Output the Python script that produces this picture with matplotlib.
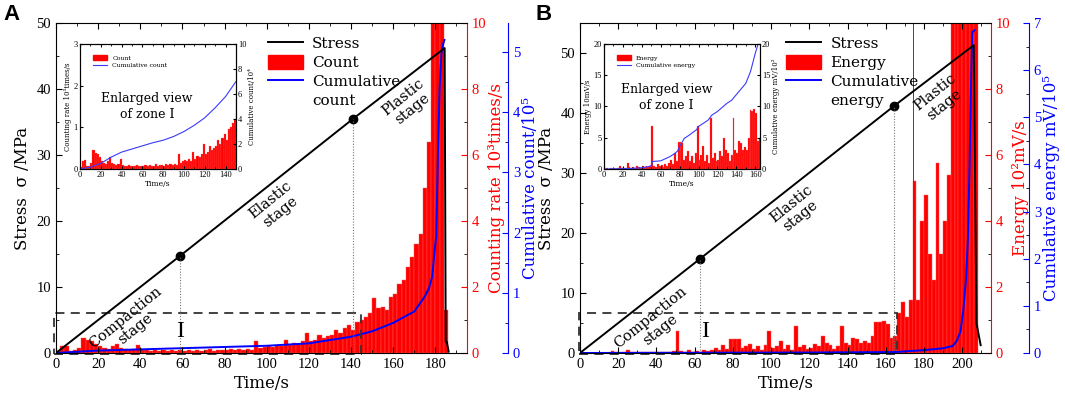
import matplotlib
matplotlib.use("Agg")
import matplotlib.pyplot as plt
from matplotlib.ticker import MultipleLocator
from matplotlib.patches import Rectangle, Patch
from matplotlib.lines import Line2D
import numpy as np

plt.rcParams['font.family'] = 'Liberation Serif'
LBL = 'DejaVu Serif'

# ---------------- panel A : acoustic emission count ----------------
bins_A = np.arange(0, 186, 2)          # bin start, s
count_rate_A = [
    0.05, 0.2, 0.22, 0.06, 0.08,
    0.15, 0.45, 0.38, 0.35, 0.28,
    0.2, 0.15, 0.12, 0.2, 0.28,
    0.15, 0.12, 0.1, 0.12, 0.25,
    0.1, 0.08, 0.07, 0.09, 0.06,
    0.08, 0.07, 0.1, 0.06, 0.08,
    0.07, 0.09, 0.06, 0.1, 0.07,
    0.08, 0.12, 0.07, 0.09, 0.1,
    0.08, 0.11, 0.09, 0.12, 0.1,
    0.12, 0.1, 0.37, 0.15, 0.18,
    0.22, 0.18, 0.25, 0.2, 0.4,
    0.25, 0.3, 0.28, 0.35, 0.6,
    0.35, 0.4, 0.55, 0.45, 0.5,
    0.55, 0.7, 0.6, 0.75, 0.85,
    0.7, 0.95, 1.0, 1.1, 1.2,
    1.67, 1.35, 1.4, 1.3, 1.7,
    1.8, 2.1, 2.2, 2.6, 2.9,
    3.3, 3.6, 5.0, 6.4, 12,
    12, 12, 1.3]

stress_t_A = [0, 58.8, 141, 184.4, 184.9, 185.4, 186.3]
stress_A = [0, 14.7, 35.5, 46.2, 1.7, 1.7, 0.2]
phase_t_A = [58.8, 141]
phase_stress_A = [14.7, 35.5]

cum_t_A = [0, 20, 40, 60, 80, 100, 120, 140, 150, 160, 170, 175, 177,
           178.5, 179.5, 180.4, 181.2, 182, 182.9, 183.6, 184.3]
cum_A = [0, 0.04, 0.06, 0.08, 0.1, 0.12, 0.16, 0.27, 0.36, 0.5, 0.69, 0.94,
         1.08, 1.27, 1.65, 1.95, 3.3, 4.4, 4.98, 5.12, 5.2]

# inset A cumulative count (x10^4)
ins_cum_t_A = [0, 10, 20, 30, 40, 50, 60, 70, 80, 90, 100, 110, 120, 130,
               140, 145, 150]
ins_cum_A = [0, 0.15, 0.45, 0.95, 1.35, 1.6, 1.85, 2.1, 2.3, 2.6, 3.0, 3.5,
             4.1, 4.9, 5.8, 6.4, 7.0]

# ---------------- panel B : acoustic emission energy ----------------
bins_B = np.arange(0, 208, 2)
energy_B = [
    0.0, 0.01, 0.0, 0.01, 0.0,
    0.01, 0.0, 0.01, 0.05, 0.02,
    0.01, 0.02, 0.1, 0.03, 0.02,
    0.03, 0.02, 0.04, 0.03, 0.02,
    0.04, 0.03, 0.04, 0.03, 0.05,
    0.68, 0.05, 0.03, 0.08, 0.04,
    0.06, 0.03, 0.08, 0.05, 0.1,
    0.15, 0.08, 0.25, 0.12, 0.43,
    0.43, 0.41, 0.15, 0.2, 0.28,
    0.12, 0.2, 0.1, 0.25, 0.68,
    0.15, 0.22, 0.36, 0.12, 0.23,
    0.1, 0.81, 0.18, 0.25, 0.12,
    0.15, 0.28, 0.2, 0.5, 0.3,
    0.25, 0.12, 0.22, 0.81, 0.3,
    0.25, 0.44, 0.41, 0.3, 0.35,
    0.3, 0.5, 0.95, 0.93, 0.96,
    0.89, 0.45, 0.5, 1.2, 1.55,
    1.1, 1.6, 5.2, 1.6, 4.0,
    4.8, 3.0, 2.2, 5.75, 3.0,
    4.0, 5.4, 12, 12, 12,
    12, 12, 12, 12]
spike_t_B = [174.5]
spike_B = [12]

stress_t_B = [0, 62.8, 164.4, 206, 207.4, 209.6]
stress_B = [0, 15.7, 41.2, 51.3, 5.0, 1.3]
phase_t_B = [62.8, 164.4]
phase_stress_B = [15.7, 41.2]

cum_t_B = [0, 60, 120, 165, 172, 180, 190, 195, 197, 199, 200.5, 202, 203,
           203.8, 204.5, 205.2, 206.4]
cum_B = [0, 0.005, 0.01, 0.02, 0.04, 0.06, 0.1, 0.15, 0.25, 0.45, 0.9, 1.6,
         2.5, 4.0, 5.6, 6.8, 6.85]

ins_cum_t_B = [0, 20, 30, 40, 48, 50.5, 51, 60, 70, 75, 78, 80, 85, 90, 98,
               100, 110, 114, 120, 130, 135, 140, 150, 155, 160, 163]
ins_cum_B = [0, 0.05, 0.1, 0.2, 0.4, 0.6, 1.2, 1.3, 2.0, 2.5, 2.9, 3.6, 4.9,
             5.4, 6.3, 6.8, 7.8, 8.6, 9.2, 10.5, 11.0, 11.9, 13.7, 15.6,
             18.5, 20.0]


def style_in(ax, size=10.5):
    ax.tick_params(which='both', direction='in', labelsize=size)
    ax.tick_params(which='major', length=4)
    ax.tick_params(which='minor', length=2.5)


def panel(fig, rect, d):
    ax = fig.add_axes(rect)
    ax_r = ax.twinx()
    ax_b = ax.twinx()
    ax_r.set_zorder(1)
    ax_b.set_zorder(2)
    ax.set_zorder(3)
    ax.patch.set_visible(False)

    # bars (red axis)
    ax_r.bar(d['bins'], d['rate'], width=2, align='edge', color='red',
             edgecolor='#ff5a5a', linewidth=0.3)
    if d.get('spike_t'):
        ax_r.bar(d['spike_t'], d['spike'], width=0.6, color='red', linewidth=0)
    ax_r.set_ylim(0, 10)
    ax_r.yaxis.set_major_locator(MultipleLocator(2))
    ax_r.yaxis.set_minor_locator(MultipleLocator(1))
    style_in(ax_r)
    ax_r.tick_params(axis='y', colors='red')
    for s in ['left', 'top', 'bottom']:
        ax_r.spines[s].set_visible(False)
    ax_r.spines['right'].set_color('red')
    ax_r.set_ylabel(d['rlabel'], color='red', family=LBL, fontsize=12, labelpad=1)

    # cumulative (blue axis)
    ln_b, = ax_b.plot(d['cum_t'], d['cum'], color='blue', lw=1.4)
    ax_b.set_ylim(0, d['bmax'])
    ax_b.yaxis.set_major_locator(MultipleLocator(1))
    ax_b.yaxis.set_minor_locator(MultipleLocator(0.5))
    ax_b.spines['right'].set_position(('axes', d['boff']))
    for s in ['left', 'top', 'bottom']:
        ax_b.spines[s].set_visible(False)
    ax_b.spines['right'].set_color('blue')
    style_in(ax_b)
    ax_b.tick_params(axis='y', colors='blue')
    ax_b.set_ylabel(d['blabel'], color='blue', family=LBL, fontsize=12, labelpad=1)

    # stress (black axis)
    ln_s, = ax.plot(d['stress_t'], d['stress'], color='black', lw=1.4)
    ax.plot(d['phase_t'], d['phase_s'], 'o', color='black', ms=6)
    ax.vlines(d['phase_t'], 0.5, d['phase_s'], colors='#777777', lw=0.8,
              linestyles=(0, (1, 1.5)))
    ax.set_xlim(0, d['xmax'])
    ax.set_ylim(0, d['ymax'])
    ax.xaxis.set_major_locator(MultipleLocator(20))
    ax.xaxis.set_minor_locator(MultipleLocator(10))
    ax.yaxis.set_major_locator(MultipleLocator(10))
    ax.yaxis.set_minor_locator(MultipleLocator(5))
    style_in(ax)
    ax.tick_params(which='both', top=True, right=False)
    ax.spines['right'].set_visible(False)
    ax.set_xlabel('Time/s', family=LBL, fontsize=12, labelpad=3)
    ax.set_ylabel('Stress  σ /MPa', family=LBL, fontsize=12, labelpad=4)

    # zone I dashed box
    x0, x1, y1 = d['box']
    ax.add_patch(Rectangle((x0, -0.2), x1 - x0, y1 + 0.2, fill=False,
                           edgecolor='#333333', lw=1.3, ls=(0, (5, 3.5)),
                           clip_on=False))
    ax.text(d['I'][0], d['I'][1], 'I', fontsize=17, ha='center', va='center',
            family='Liberation Serif')

    for txt, (tx, ty) in zip(['Compaction\nstage', 'Elastic\nstage', 'Plastic\nstage'],
                             d['stages']):
        ax.text(tx, ty, txt, rotation=39, rotation_mode='anchor', ha='center',
                va='center', multialignment='center', family=LBL, fontsize=10.5,
                linespacing=1.1)

    blank = Line2D([], [], alpha=0)
    ax.legend([ln_s, Patch(color='red'), ln_b, blank],
              ['Stress', d['bname'], 'Cumulative', d['cname']],
              loc='upper left', bbox_to_anchor=(d['legx'], 0.978),
              borderaxespad=0, frameon=False,
              prop=dict(family=LBL, size=11), handlelength=2.3,
              handleheight=1.0, labelspacing=0.25, handletextpad=0.6)
    return ax


def inset(fig, rect, d):
    ins = fig.add_axes(rect)
    ins.set_zorder(5)
    ins_r = ins.twinx()
    ins_r.set_zorder(6)
    ins_r.patch.set_visible(False)
    ins.bar(d['bins'], np.array(d['rate']) * d['iscale'], width=2, align='edge',
            color='red', edgecolor='#ff6060', linewidth=0.2)
    ins_r.plot(d['icum_t'], d['icum'], color='#3a3aff', lw=0.8)
    ins.set_xlim(0, d['ixmax'])
    ins.set_ylim(0, d['iymax'])
    ins_r.set_ylim(0, d['irmax'])
    ins.xaxis.set_major_locator(MultipleLocator(20))
    ins.xaxis.set_minor_locator(MultipleLocator(10))
    ins.yaxis.set_major_locator(MultipleLocator(d['iystep']))
    ins_r.yaxis.set_major_locator(MultipleLocator(d['irstep']))
    for a in (ins, ins_r):
        a.tick_params(which='both', direction='in', labelsize=6, pad=1.5)
        a.tick_params(which='major', length=2.5)
        a.tick_params(which='minor', length=1.5)
    ins.tick_params(which='both', top=True)
    ins.set_xlabel('Time/s', family=LBL, fontsize=5.5, labelpad=1)
    ins.set_ylabel(d['ilabel'], family=LBL, fontsize=5, labelpad=1)
    ins_r.set_ylabel(d['irlabel'], family=LBL, fontsize=5, labelpad=1)
    ins.text(d['itext'][0], d['itext'][1], 'Enlarged view\nof zone I',
             transform=ins.transAxes, ha='center', va='center', family=LBL,
             fontsize=9, linespacing=1.25)
    ins.legend([Patch(color='red'), Line2D([], [], color='#3a3aff', lw=0.8)],
               [d['bname'], 'Cumulative ' + d['cname']],
               loc='upper left', bbox_to_anchor=(0.07, 0.93), frameon=False,
               prop=dict(family=LBL, size=4.5), handlelength=2.2,
               handleheight=0.8, labelspacing=0.3, borderaxespad=0)


fig = plt.figure(figsize=(10.65, 3.98), dpi=100)

dA = dict(bins=bins_A, rate=count_rate_A, stress_t=stress_t_A, stress=stress_A,
          phase_t=phase_t_A, phase_s=phase_stress_A, cum_t=cum_t_A, cum=cum_A,
          xmax=195, ymax=50, bmax=5.48, boff=1.1,
          rlabel='Counting rate 10³times/s', blabel='Cumulative count/10⁵',
          box=(-0.95, 144.5, 6.1), I=(58.8, 3.3),
          stages=[(35.3, 4.5), (104, 22.3), (166.8, 37.9)],
          bname='Count', cname='count', legx=0.5,
          iscale=1, icum_t=ins_cum_t_A, icum=ins_cum_A, ixmax=150, iymax=3,
          irmax=10, iystep=1, irstep=2,
          ilabel='Counting rate 10³times/s', irlabel='Cumulative count/10⁴',
          itext=(0.43, 0.5))

dB = dict(bins=bins_B, rate=energy_B, spike_t=spike_t_B, spike=spike_B,
          stress_t=stress_t_B, stress=stress_B,
          phase_t=phase_t_B, phase_s=phase_stress_B, cum_t=cum_t_B, cum=cum_B,
          xmax=215, ymax=55, bmax=7, boff=1.0925,
          rlabel='Energy 10²mV/s', blabel='Cumulative energy mV/10⁵',
          box=(-0.35, 165.8, 6.7), I=(65.4, 3.5),
          stages=[(39.3, 4.9), (113, 23.8), (188, 42.4)],
          bname='Energy', cname='energy', legx=0.487,
          iscale=10, icum_t=ins_cum_t_B, icum=ins_cum_B, ixmax=165, iymax=20,
          irmax=20, iystep=5, irstep=5,
          ilabel='Energy 10mV/s', irlabel='Cumulative energy mV/10²',
          itext=(0.4, 0.57))

panel(fig, [0.0526, 0.1131, 0.3859, 0.8291], dA)
panel(fig, [0.5446, 0.1131, 0.3859, 0.8291], dB)
inset(fig, [0.0751, 0.5754, 0.1465, 0.3141], dA)
inset(fig, [0.5671, 0.5754, 0.1465, 0.3141], dB)

fig.text(0.003, 0.99, 'A', fontsize=16, fontweight='bold', family='Liberation Sans', va='top')
fig.text(0.503, 0.99, 'B', fontsize=16, fontweight='bold', family='Liberation Sans', va='top')

fig.savefig('out.png', dpi=100)
